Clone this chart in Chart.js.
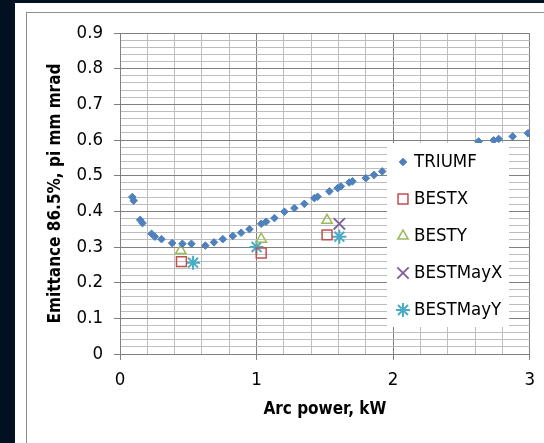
<!DOCTYPE html>
<html>
<head>
<meta charset="utf-8">
<title>Emittance vs arc power</title>
<script src="https://cdn.jsdelivr.net/npm/chart.js@4.4.1/dist/chart.umd.min.js"></script>
<style>
  html, body { margin: 0; padding: 0; }
  body { width: 544px; height: 443px; background: #021022; overflow: hidden; position: relative; }
  #panel { position: absolute; left: 15px; top: 3px; right: 0; bottom: 0; background: #fff; }
  #frame { position: absolute; left: 26px; top: 12px; width: 600px; height: 500px; border: 1px solid #8c8c8c; box-sizing: border-box; }
  #dataChart { position: absolute; left: 0; top: 0; }
</style>
</head>
<body>
<div id="panel"></div>
<div id="frame"></div>
<canvas id="dataChart" width="544" height="443"></canvas>
<script>
// TRIUMF 量測點 (Arc power kW, emittance)
const triumfX = [0.09, 0.10, 0.148, 0.165, 0.231, 0.255, 0.304, 0.382, 0.457, 0.523, 0.625, 0.688, 0.753, 0.826, 0.887, 0.948,
                 1.034, 1.07, 1.131, 1.204, 1.277, 1.35, 1.423, 1.447, 1.533, 1.594, 1.617, 1.678, 1.702, 1.80, 1.86, 1.92,
                 2.626, 2.736, 2.773, 2.875, 2.987];
const triumfY = [0.44, 0.43, 0.376, 0.367, 0.337, 0.329, 0.322, 0.311, 0.309, 0.309, 0.304, 0.313, 0.322, 0.331, 0.340, 0.350,
                 0.365, 0.371, 0.381, 0.399, 0.409, 0.421, 0.437, 0.441, 0.456, 0.465, 0.470, 0.481, 0.484, 0.493, 0.502, 0.512,
                 0.596, 0.599, 0.603, 0.610, 0.619];

const bestXx = [0.45, 1.034, 1.516];
const bestXy = [0.259, 0.283, 0.334];
const bestYx = [0.445, 1.034, 1.516];
const bestYy = [0.290, 0.322, 0.375];
const bestMayXx = [1.606];
const bestMayXy = [0.365];
const bestMayYx = [0.535, 1.0, 1.606];
const bestMayYy = [0.256, 0.300, 0.329];

const seriesNames = ['TRIUMF', 'BESTX', 'BESTY', 'BESTMayX', 'BESTMayY'];
const xTickLabels = ['0', '1', '2', '3'];

const fontFamily = "'Liberation Sans Narrow', 'DejaVu Sans Condensed', sans-serif";

function toPoints(xs, ys) {
    return xs.map((x, i) => ({ x: x, y: ys[i] }));
}

// 圖表內的圖例方框
const boxLegend = {
    id: 'boxLegend',
    afterDatasetsDraw(chart) {
        const ctx = chart.ctx;
        ctx.save();
        ctx.fillStyle = '#fff';
        ctx.fillRect(387, 143, 122, 184);
        chart.data.datasets.forEach((ds, i) => {
            const y = 162 + i * 37;
            ctx.save();
            ctx.strokeStyle = ds.borderColor;
            ctx.fillStyle = ds.backgroundColor;
            ctx.lineWidth = ds.borderWidth;
            Chart.helpers.drawPoint(ctx, {
                pointStyle: ds.pointStyle,
                radius: ds.pointRadius,
                rotation: 0,
                borderWidth: ds.borderWidth
            }, 403, y);
            ctx.restore();
            ctx.fillStyle = '#000';
            ctx.font = '18.5px ' + fontFamily;
            ctx.textBaseline = 'middle';
            ctx.textAlign = 'left';
            ctx.fillText(ds.label, 414, y);
        });
        ctx.restore();
    }
};

const isMajorY = v => Math.round(v * 100) % 10 === 0;
const isMajorX = v => Math.abs(v - Math.round(v)) < 1e-6;

const canvas = document.getElementById('dataChart');
const chart = new Chart(canvas.getContext('2d'), {
    type: 'scatter',
    data: {
        datasets: [{
            label: seriesNames[0],
            data: toPoints(triumfX, triumfY),
            pointStyle: 'rectRot',
            pointRadius: 3.8,
            backgroundColor: '#4f81bd',
            borderColor: '#4f81bd',
            borderWidth: 1
        }, {
            label: seriesNames[1],
            data: toPoints(bestXx, bestXy),
            pointStyle: 'rect',
            pointRadius: 7,
            backgroundColor: 'rgba(0,0,0,0)',
            borderColor: '#c0504d',
            borderWidth: 1.5
        }, {
            label: seriesNames[2],
            data: toPoints(bestYx, bestYy),
            pointStyle: 'triangle',
            pointRadius: 6,
            backgroundColor: 'rgba(0,0,0,0)',
            borderColor: '#9bbb59',
            borderWidth: 1.5
        }, {
            label: seriesNames[3],
            data: toPoints(bestMayXx, bestMayXy),
            pointStyle: 'crossRot',
            pointRadius: 8,
            backgroundColor: 'rgba(0,0,0,0)',
            borderColor: '#8064a2',
            borderWidth: 2
        }, {
            label: seriesNames[4],
            data: toPoints(bestMayYx, bestMayYy),
            pointStyle: 'star',
            pointRadius: 7,
            backgroundColor: 'rgba(0,0,0,0)',
            borderColor: '#4bacc6',
            borderWidth: 2
        }]
    },
    options: {
        responsive: false,
        animation: false,
        layout: { padding: { left: 0, top: 33, right: 13, bottom: 0 } },
        plugins: {
            legend: { display: false },
            tooltip: { enabled: false }
        },
        scales: {
            x: {
                type: 'linear',
                min: 0,
                max: 3,
                afterFit: scale => { scale.height = 89; },
                border: { color: '#808080', width: 1 },
                grid: {
                    color: c => isMajorX(c.tick.value) ? '#808080' : '#bdbdbd',
                    tickColor: c => isMajorX(c.tick.value) ? '#808080' : 'rgba(0,0,0,0)',
                    tickLength: 6
                },
                ticks: {
                    stepSize: 0.2,
                    autoSkip: false,
                    maxRotation: 0,
                    padding: 9,
                    color: '#000',
                    font: { family: fontFamily, size: 18.5 },
                    callback: v => isMajorX(v) ? xTickLabels[Math.round(v)] : ''
                },
                title: {
                    display: true,
                    text: 'Arc power, kW',
                    color: '#000',
                    font: { family: fontFamily, size: 17, weight: 'bold' },
                    padding: { top: 0, bottom: 23 }
                }
            },
            y: {
                type: 'linear',
                min: 0,
                max: 0.9,
                afterFit: scale => { scale.width = 120; },
                border: { color: '#808080', width: 1 },
                grid: {
                    color: c => isMajorY(c.tick.value) ? '#808080' : '#bdbdbd',
                    tickColor: c => isMajorY(c.tick.value) ? '#808080' : 'rgba(0,0,0,0)',
                    tickLength: 6
                },
                ticks: {
                    stepSize: 0.02,
                    autoSkip: false,
                    padding: 11,
                    color: '#000',
                    font: { family: fontFamily, size: 18.5 },
                    callback: v => isMajorY(v) ? (v === 0 ? '0' : v.toFixed(1)) : ''
                },
                title: {
                    display: true,
                    text: 'Emittance 86.5%, pi mm mrad',
                    color: '#000',
                    font: { family: fontFamily, size: 17, weight: 'bold' },
                    padding: { top: 45, bottom: 0 }
                }
            }
        }
    },
    plugins: [boxLegend]
});
</script>
</body>
</html>
